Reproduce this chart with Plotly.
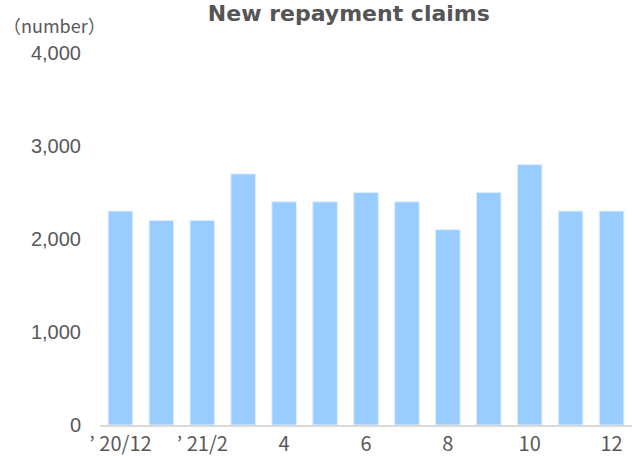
import plotly.graph_objects as go

# meses: diciembre 2020 a diciembre 2021
months = ["20/12", "21/1", "21/2", "3", "4", "5", "6", "7", "8", "9", "10", "11", "12"]
claims = [2300, 2200, 2200, 2700, 2400, 2400, 2500, 2400, 2100, 2500, 2800, 2300, 2300]
tick_vals = ["20/12", "21/2", "4", "6", "8", "10", "12"]
tick_text = ["’ 20/12", "’ 21/2", "4", "6", "8", "10", "12"]

fig = go.Figure()
fig.add_trace(go.Bar(
    x=months,
    y=claims,
    marker=dict(color="#99CCFF", line=dict(color="#DDEEFF", width=1)),
    width=0.6,
    hoverinfo="skip",
))

fig.update_layout(
    width=632,
    height=456,
    paper_bgcolor="white",
    plot_bgcolor="white",
    margin=dict(l=100, r=0, t=53, b=31),
    showlegend=False,
    font=dict(family="Noto Sans CJK JP, Liberation Sans, sans-serif", color="#595959"),
    title=dict(
        text="<b>New repayment claims</b>",
        x=0.552, xanchor="center", y=0.988, yanchor="top",
        font=dict(size=22, color="#555555", family="DejaVu Sans, sans-serif"),
    ),
    xaxis=dict(
        type="category",
        categoryorder="array",
        categoryarray=months,
        tickmode="array",
        tickvals=tick_vals,
        ticktext=tick_text,
        tickfont=dict(size=20, family="Noto Sans CJK JP, sans-serif"),
        showline=True,
        linecolor="#D9D9D9",
        linewidth=2,
        ticks="",
        showgrid=False,
        range=[-0.5, 12.5],
    ),
    yaxis=dict(
        range=[0, 4000],
        tickvals=[0, 1000, 2000, 3000, 4000],
        tickformat=",",
        tickfont=dict(size=20, family="Liberation Sans, Arial, sans-serif"),
        showgrid=False,
        zeroline=False,
        showline=False,
        ticks="",
        ticklabelstandoff=18,
    ),
    annotations=[dict(
        text="（number）",
        xref="paper", yref="paper",
        x=-0.085, y=1.035, xanchor="center", yanchor="bottom",
        showarrow=False,
        font=dict(size=18, color="#595959", family="Noto Sans CJK JP, sans-serif"),
    )],
)

# quitar el margen por defecto del body
fig.write_html("out.html", config={"displayModeBar": False},
               post_script="document.body.style.margin='0';")
